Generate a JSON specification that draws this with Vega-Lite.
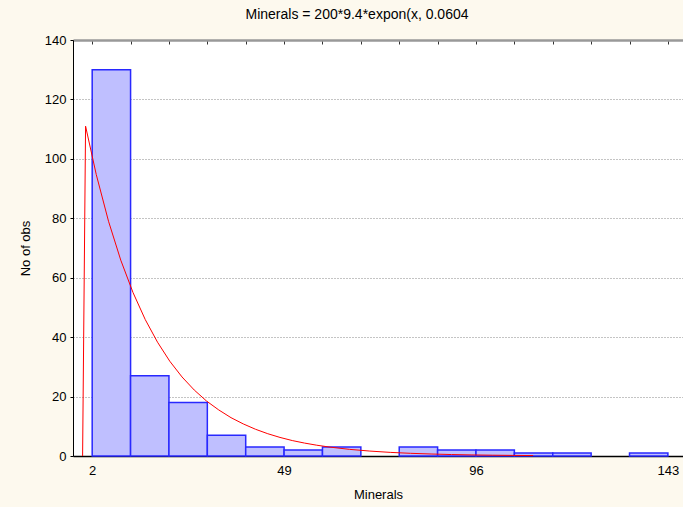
{
  "$schema": "https://vega.github.io/schema/vega-lite/v6.json",
  "width": 610,
  "height": 416,
  "autosize": {"type": "none"},
  "padding": {"left": 73, "top": 40, "right": 0, "bottom": 51},
  "background": "#FDF9EE",
  "config": {"view": {"fill": "white", "stroke": null}, "font": "Liberation Sans"},
  "title": {"text": "Minerals = 200*9.4*expon(x, 0.0604", "fontSize": 14, "fontWeight": "normal", "anchor": "middle", "color": "black", "offset": 12, "dx": -21},
  "datasets": {
    "bins": [
      {"start": 2, "end": 11.4, "count": 130},
      {"start": 11.4, "end": 20.8, "count": 27},
      {"start": 20.8, "end": 30.2, "count": 18},
      {"start": 30.2, "end": 39.6, "count": 7},
      {"start": 39.6, "end": 49, "count": 3},
      {"start": 49, "end": 58.4, "count": 2},
      {"start": 58.4, "end": 67.8, "count": 3},
      {"start": 77.2, "end": 86.6, "count": 3},
      {"start": 86.6, "end": 96, "count": 2},
      {"start": 96, "end": 105.4, "count": 2},
      {"start": 105.4, "end": 114.8, "count": 1},
      {"start": 114.8, "end": 124.2, "count": 1},
      {"start": 133.6, "end": 143, "count": 1}
    ],
    "curve": [
      {"x": -0.35, "y": 0},
      {"x": 0.38, "y": 111.0},
      {"x": 3, "y": 94.7},
      {"x": 6, "y": 79.0},
      {"x": 9, "y": 65.9},
      {"x": 12, "y": 55.0},
      {"x": 15, "y": 45.9},
      {"x": 18, "y": 38.3},
      {"x": 21, "y": 31.9},
      {"x": 24, "y": 26.6},
      {"x": 27, "y": 22.2},
      {"x": 30, "y": 18.5},
      {"x": 33, "y": 15.5},
      {"x": 36, "y": 12.9},
      {"x": 39, "y": 10.8},
      {"x": 42, "y": 9.0},
      {"x": 45, "y": 7.5},
      {"x": 48, "y": 6.25},
      {"x": 51, "y": 5.2},
      {"x": 54, "y": 4.35},
      {"x": 57, "y": 3.63},
      {"x": 60, "y": 3.03},
      {"x": 65, "y": 2.24},
      {"x": 70, "y": 1.66},
      {"x": 75, "y": 1.22},
      {"x": 80, "y": 0.9},
      {"x": 85, "y": 0.67},
      {"x": 90, "y": 0.49},
      {"x": 95, "y": 0.36},
      {"x": 100, "y": 0.27},
      {"x": 105, "y": 0.2},
      {"x": 110, "y": 0.15}
    ]
  },
  "layer": [
    {
      "data": {"name": "bins"},
      "mark": {"type": "rect", "fill": "#BFBFFF", "stroke": "#2828FF", "strokeWidth": 1.5},
      "encoding": {
        "x": {
          "field": "start", "type": "quantitative",
          "scale": {"domain": [-2.7, 146.7], "nice": false, "zero": false},
          "axis": {"values": [2, 49, 96, 143], "title": "Minerals", "grid": false, "ticks": false, "domainColor": "black", "domainWidth": 1.5, "labelFontSize": 13, "labelColor": "black", "labelPadding": 8, "titleFontSize": 13, "titleFontWeight": "normal", "titleColor": "black", "titlePadding": 11}
        },
        "x2": {"field": "end"},
        "y": {
          "field": "count", "type": "quantitative",
          "scale": {"domain": [0, 140], "nice": false},
          "axis": {"values": [0, 20, 40, 60, 80, 100, 120, 140], "title": "No of obs", "grid": true, "gridDash": [1, 2], "gridColor": "#888888", "gridWidth": 1, "tickColor": "black", "tickSize": 3, "domainColor": "black", "labelFontSize": 13, "labelColor": "black", "labelPadding": 4, "titleFontSize": 13, "titleFontWeight": "normal", "titleColor": "black", "titlePadding": 12}
        },
        "y2": {"datum": 0}
      }
    },
    {
      "data": {"name": "curve"},
      "mark": {"type": "line", "color": "#FF0000", "strokeWidth": 1},
      "encoding": {
        "x": {
          "field": "x", "type": "quantitative",
          "axis": {"orient": "top", "values": [2, 11.4, 20.8, 30.2, 39.6, 49, 58.4, 67.8, 77.2, 86.6, 96, 105.4, 114.8, 124.2, 133.6, 143], "labels": false, "title": null, "grid": false, "domainColor": "#999999", "domainWidth": 2.5, "tickColor": "#333333", "tickSize": -4}
        },
        "y": {"field": "y", "type": "quantitative"}
      }
    }
  ],
  "resolve": {"axis": {"x": "independent"}}
}
